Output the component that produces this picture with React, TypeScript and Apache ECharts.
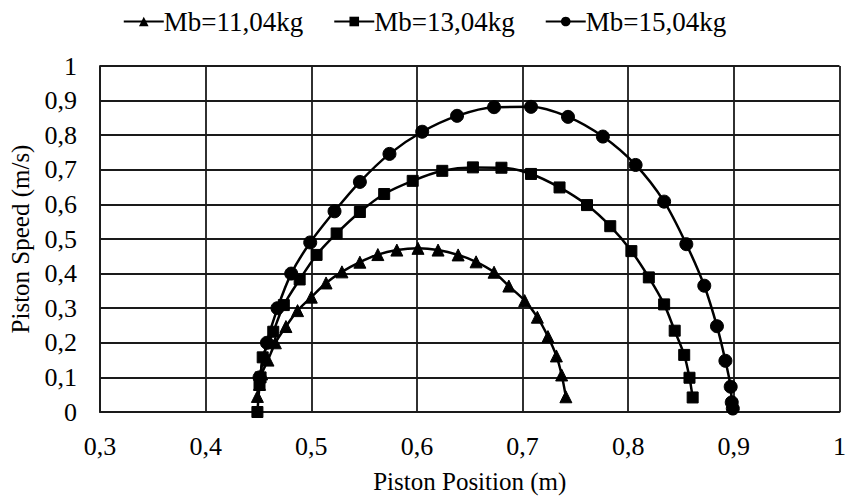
import React, { useEffect, useRef } from "react";
import * as echarts from "echarts";

const seriesNames = ["Mb=11,04kg", "Mb=13,04kg", "Mb=15,04kg"];
const seriesSymbols = ["triangle", "rect", "circle"];

const mb11: [number, number][] = [
  [0.449, 0.045], [0.451, 0.08], [0.453, 0.11], [0.459, 0.15], [0.466, 0.2],
  [0.476, 0.247], [0.487, 0.293], [0.5, 0.332], [0.514, 0.373], [0.529, 0.405],
  [0.546, 0.433], [0.563, 0.455], [0.581, 0.468], [0.601, 0.473], [0.62, 0.468],
  [0.639, 0.454], [0.656, 0.434], [0.673, 0.404], [0.687, 0.364], [0.702, 0.322],
  [0.714, 0.274], [0.724, 0.218], [0.732, 0.162], [0.737, 0.107], [0.741, 0.044],
];

const mb13: [number, number][] = [
  [0.449, 0.0], [0.451, 0.078], [0.452, 0.1], [0.454, 0.158], [0.464, 0.232],
  [0.474, 0.309], [0.489, 0.383], [0.505, 0.454], [0.524, 0.516], [0.546, 0.578],
  [0.569, 0.63], [0.596, 0.668], [0.624, 0.697], [0.653, 0.707], [0.68, 0.706],
  [0.708, 0.688], [0.735, 0.649], [0.761, 0.598], [0.783, 0.537], [0.803, 0.465],
  [0.8195, 0.389], [0.834, 0.311], [0.844, 0.235], [0.853, 0.165], [0.858, 0.099],
  [0.861, 0.042],
];

const mb15: [number, number][] = [
  [0.451, 0.1], [0.458, 0.2], [0.468, 0.3], [0.481, 0.4], [0.499, 0.49],
  [0.522, 0.58], [0.546, 0.665], [0.574, 0.746], [0.605, 0.81], [0.638, 0.856],
  [0.673, 0.881], [0.708, 0.882], [0.743, 0.853], [0.776, 0.796], [0.807, 0.714],
  [0.834, 0.608], [0.855, 0.485], [0.872, 0.365], [0.884, 0.248], [0.892, 0.148],
  [0.897, 0.073], [0.898, 0.028], [0.899, 0.01],
];

const seriesData = [mb11, mb13, mb15];
const symbolSizes = [12, 11, 13];

const fmt = (v: number) => {
  const r = Math.round(v * 10) / 10;
  if (r === 0 || r === 1) return String(r);
  return r.toFixed(1).replace(".", ",");
};

export default function App() {
  const ref = useRef<HTMLDivElement>(null);
  useEffect(() => {
    if (!ref.current) return;
    const chart = echarts.init(ref.current, null, { renderer: "svg" });
    const font = "Liberation Serif";
    chart.setOption({
      animation: false,
      backgroundColor: "#ffffff",
      textStyle: { fontFamily: font, color: "#000" },
      legend: {
        top: 3,
        left: "center",
        itemWidth: 40,
        itemHeight: 12,
        itemGap: 30,
        textStyle: { fontFamily: font, fontSize: 27, color: "#000", padding: [0, 0, 0, -5] },
        data: seriesNames,
      },
      grid: { left: 100, right: 7, top: 66, bottom: 87, containLabel: false },
      xAxis: {
        type: "value",
        min: 0.3,
        max: 1,
        interval: 0.1,
        name: "Piston Position (m)",
        nameLocation: "middle",
        nameGap: 57,
        nameTextStyle: { fontFamily: font, fontSize: 25, color: "#000" },
        axisLine: { show: true, lineStyle: { color: "#1a1a1a", width: 1.8 } },
        axisTick: { show: false },
        axisLabel: { formatter: fmt, fontFamily: font, fontSize: 26, color: "#000", margin: 21 },
        splitLine: { show: true, lineStyle: { color: "#1a1a1a", width: 1.8 } },
      },
      yAxis: {
        type: "value",
        min: 0,
        max: 1,
        interval: 0.1,
        name: "Piston Speed (m/s)",
        nameLocation: "middle",
        nameGap: 67,
        nameTextStyle: { fontFamily: font, fontSize: 25, color: "#000" },
        axisLine: { show: true, lineStyle: { color: "#1a1a1a", width: 1.8 } },
        axisTick: { show: false },
        axisLabel: { formatter: fmt, fontFamily: font, fontSize: 26, color: "#000", margin: 23 },
        splitLine: { show: true, lineStyle: { color: "#1a1a1a", width: 1.8 } },
      },
      series: seriesNames.map((n, i) => ({
        name: n,
        type: "line",
        data: seriesData[i],
        smooth: 0.3,
        symbol: seriesSymbols[i],
        symbolSize: symbolSizes[i],
        showAllSymbol: true,
        lineStyle: { color: "#000", width: 2.5 },
        itemStyle: { color: "#000", borderColor: "#000" },
        z: 3,
      })),
    });
    return () => chart.dispose();
  }, []);
  return <div ref={ref} style={{ width: 849, height: 499, position: "absolute", left: 0, top: 0 }} />;
}
